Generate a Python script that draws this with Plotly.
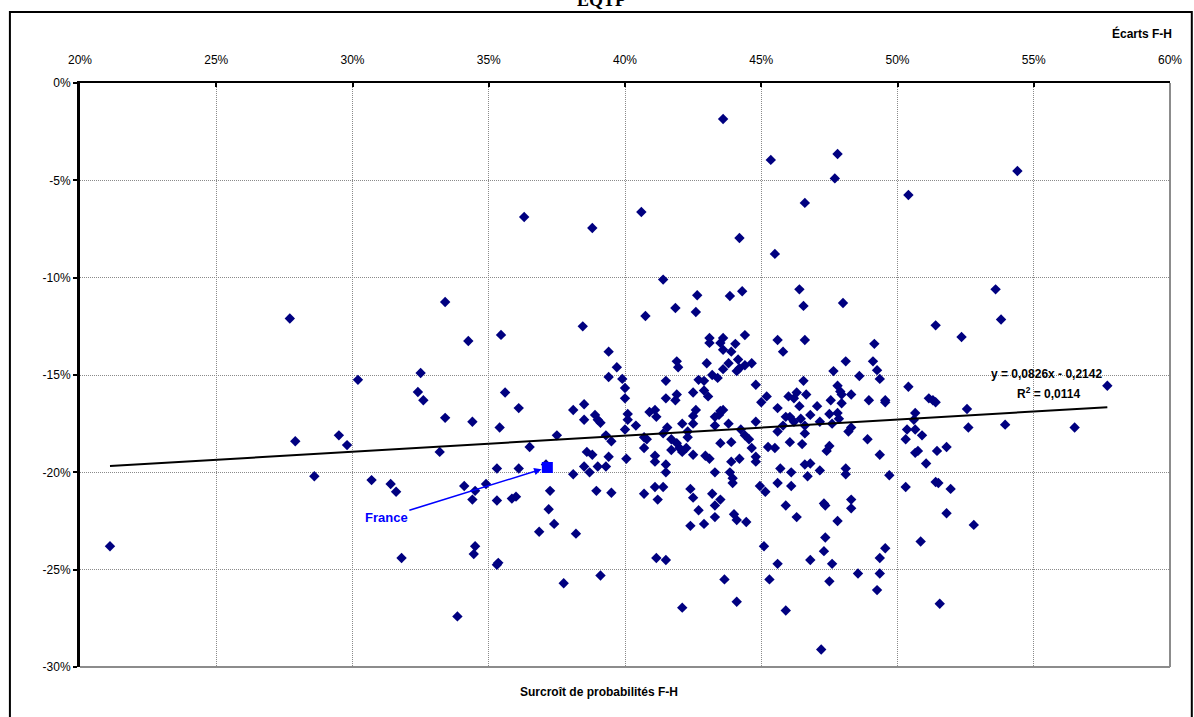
import plotly.graph_objects as go

# ---- data (percent units) ----
surcroit = [
    43.6, 45.35, 46.6, 36.3, 38.8, 40.6, 44.2, 45.5, 41.4,
    47.8, 47.7, 54.4, 50.4, 53.6, 46.4,
    27.7, 33.4, 30.2, 32.5, 32.4, 32.6, 33.4, 27.9, 29.5, 29.8, 33.2, 28.6, 30.7,
    21.1, 31.4, 31.6, 31.8,
    34.25, 35.45, 38.45, 40.75, 41.85, 42.65, 42.6, 43.85, 44.3, 46.55,
    39.4, 39.7, 39.4, 39.9, 40.0, 40.0, 35.6, 36.1, 34.4, 35.4, 38.1, 38.5, 38.5,
    38.9, 39.0, 39.1, 40.1, 40.1, 40.4, 40.0, 37.5, 36.5, 39.3, 39.5, 40.7, 40.8,
    40.7, 38.6, 38.8, 39.4, 40.05, 38.5, 38.7, 39.0, 39.3, 38.1, 35.3, 36.1, 37.1,
    40.9, 41.1, 41.15, 41.5, 41.5, 41.9, 41.85, 42.5, 41.9, 41.95, 43.0, 42.7, 42.9,
    42.9, 43.05, 43.2, 43.4, 43.1, 43.1, 43.6, 43.5, 43.6, 43.9, 44.05, 44.4, 44.15,
    43.8, 43.6, 44.1, 44.2, 44.4, 44.65, 44.8, 45.0, 45.2, 45.6, 45.8, 46.55, 46.0,
    46.2, 46.3, 45.6, 46.4, 45.9, 46.05, 46.45, 46.2, 45.8, 44.8, 43.8, 43.3, 43.3,
    43.5, 43.6, 43.45, 42.6, 42.5, 42.5, 42.1, 41.55, 41.4, 41.7, 41.9, 42.0, 41.7,
    42.1, 42.25, 42.3, 42.3, 42.5, 42.95, 43.1, 43.5, 43.9, 44.25, 44.4, 44.55,
    44.65, 44.8, 44.8, 44.2, 43.9, 43.3, 43.85, 41.5, 41.5, 41.1, 41.1, 45.25, 45.5,
    45.6, 46.05, 46.5, 45.7, 46.1, 46.6, 46.6, 46.65, 46.6,
    48.0, 49.15, 49.1, 48.1, 49.25, 47.65, 48.6, 49.35, 47.8, 47.9, 47.95, 48.3,
    47.55, 47.95, 48.95, 49.55, 49.55, 47.05, 46.8, 47.5, 47.8, 47.85, 47.15, 47.6,
    48.2, 48.3, 46.6, 48.9, 47.5, 47.4, 49.35, 46.8, 47.15, 48.1, 46.7, 48.1, 49.7,
    50.4, 50.65, 50.6, 50.35, 50.65, 50.3, 50.9, 50.65, 50.75, 51.05, 51.45, 51.8,
    51.4, 52.35, 53.8, 51.15, 51.3, 51.4, 52.55, 52.6, 53.95, 56.5, 57.7,
    34.1, 34.5, 34.9, 34.4, 35.3, 35.85, 36.0, 37.25, 38.95, 39.5, 37.2, 37.4, 36.85,
    38.2, 34.5, 34.45, 35.3, 35.35, 37.75, 39.1, 33.85, 40.7, 41.1, 41.4, 41.2, 42.4,
    42.5, 43.2, 43.5, 43.3, 42.7, 43.3, 42.9, 42.4, 44.0, 44.1, 44.45, 43.95, 43.95,
    41.15, 41.5, 43.65, 44.1, 42.1, 44.95, 45.15, 45.6, 46.1, 45.9, 46.3, 45.1, 45.6,
    45.3, 45.9,
    50.3, 51.4, 51.5, 51.95, 47.3, 47.35, 48.3, 48.3, 47.8, 51.8, 52.8, 47.35, 47.3,
    46.8, 47.6, 49.55, 49.35, 50.85, 48.55, 49.35, 47.5, 49.25, 51.55, 47.2,
]
ecarts = [
    -1.85, -3.95, -6.16, -6.88, -7.45, -6.63, -7.96, -8.78, -10.1,
    -3.65, -4.9, -4.52, -5.75, -10.6, -10.6,
    -12.1, -11.25, -15.25, -14.9, -15.87, -16.3, -17.2, -18.4, -18.1, -18.6, -18.95, -20.2, -20.4,
    -23.8, -20.6, -21.0, -24.4,
    -13.25, -12.94, -12.5, -11.97, -11.56, -10.9, -11.76, -10.94, -10.7, -11.45,
    -13.8, -14.6, -15.1, -15.2, -15.67, -16.2, -15.9, -16.7, -17.4, -17.7, -16.8, -16.5, -17.3,
    -17.05, -17.3, -17.45, -17.0, -17.3, -17.6, -17.8, -18.1, -18.7, -18.1, -18.4, -18.2, -18.3,
    -18.75, -18.95, -19.1, -19.2, -19.3, -19.7, -20.0, -19.7, -19.7, -20.1, -19.8, -19.8, -19.6,
    -16.9, -16.8, -17.15, -15.3, -16.2, -16.0, -16.3, -15.9, -14.3, -14.6, -14.4, -15.25, -15.3,
    -15.8, -16.1, -15.0, -15.15, -13.1, -13.35, -13.1, -13.35, -13.7, -13.8, -13.4, -12.95, -14.2,
    -14.4, -14.7, -14.8, -14.65, -14.5, -14.4, -15.5, -16.4, -16.1, -13.2, -13.8, -15.3, -16.1,
    -16.2, -15.9, -16.7, -16.6, -17.15, -17.15, -17.25, -17.4, -17.6, -17.4, -17.5, -17.6, -17.15,
    -16.85, -16.8, -17.05, -16.8, -17.1, -17.5, -17.5, -17.7, -18.0, -18.3, -18.5, -18.75, -18.85,
    -18.95, -18.75, -18.2, -17.9, -19.1, -19.15, -19.3, -18.5, -18.45, -17.8, -18.1, -18.3,
    -18.75, -19.2, -19.45, -19.3, -19.45, -20.0, -20.0, -20.0, -19.6, -19.15, -19.45, -18.7, -18.75,
    -17.9, -18.45, -18.55, -19.8, -20.0, -19.6, -17.6, -16.0, -13.2,
    -11.3, -13.4, -14.3, -14.3, -14.75, -14.8, -15.05, -15.2, -15.55, -15.85, -16.0, -16.0,
    -16.3, -16.45, -16.3, -16.3, -16.4, -16.6, -17.05, -17.0, -16.95, -17.25, -17.4, -17.5,
    -17.9, -17.7, -18.0, -18.3, -18.65, -18.9, -19.1, -19.55, -19.9, -19.8, -20.2, -20.1, -20.15,
    -15.6, -16.95, -17.3, -17.8, -17.8, -18.3, -18.1, -19.0, -18.9, -19.55, -18.9, -18.7,
    -12.45, -13.05, -12.15, -16.2, -16.3, -16.4, -16.75, -17.7, -17.55, -17.7, -15.55,
    -20.7, -20.95, -20.6, -21.4, -21.45, -21.35, -21.25, -20.95, -20.95, -21.05, -21.9, -22.65, -23.05,
    -23.15, -23.8, -24.2, -24.75, -24.65, -25.7, -25.3, -27.4, -21.1, -20.75, -20.75, -21.4, -20.85,
    -21.3, -21.1, -21.4, -21.7, -21.95, -22.3, -22.65, -22.75, -22.15, -22.45, -22.55, -20.3, -20.55,
    -24.4, -24.5, -25.5, -26.65, -26.95, -20.7, -21.0, -20.55, -20.7, -21.7, -22.3, -23.8, -24.7,
    -25.5, -27.1,
    -20.75, -20.5, -20.55, -20.85, -21.6, -21.7, -21.4, -21.85, -22.5, -22.1, -22.7, -23.35, -24.05,
    -24.5, -24.7, -23.9, -24.4, -23.55, -25.2, -25.2, -25.6, -26.05, -26.75, -29.1,
]

france_x = [37.15]
france_y = [-19.75]

trend_slope = 0.0826
trend_intercept = -0.2142

x_tickvals = [20, 25, 30, 35, 40, 45, 50, 55, 60]
x_ticktext = ["20%", "25%", "30%", "35%", "40%", "45%", "50%", "55%", "60%"]
y_tickvals = [0, -5, -10, -15, -20, -25, -30]
y_ticktext = ["0%", "-5%", "-10%", "-15%", "-20%", "-25%", "-30%"]

# ---- figure ----
xmin, xmax = min(surcroit), max(surcroit)
trend_x = [xmin, xmax]
trend_y = [100 * (trend_slope * (v / 100) + trend_intercept) for v in trend_x]

fig = go.Figure()
fig.add_trace(go.Scatter(
    x=surcroit, y=ecarts, mode="markers",
    marker=dict(symbol="diamond", size=8, color="#000080", line=dict(width=0)),
    hoverinfo="x+y", showlegend=False,
))
fig.add_trace(go.Scatter(
    x=trend_x, y=trend_y, mode="lines",
    line=dict(color="black", width=2), showlegend=False, hoverinfo="skip",
))
fig.add_trace(go.Scatter(
    x=france_x, y=france_y, mode="markers",
    marker=dict(symbol="square", size=11, color="#0000FF", line=dict(width=0)),
    showlegend=False,
))

font_main = "Liberation Sans, Arial, sans-serif"

fig.update_layout(
    width=1194, height=717,
    margin=dict(l=80, r=16, t=83, b=50),
    paper_bgcolor="white", plot_bgcolor="white",
    font=dict(family=font_main, size=12, color="black"),
    xaxis=dict(
        range=[20, 60], side="top", tickvals=x_tickvals, ticktext=x_ticktext,
        showgrid=True, gridcolor="#8a8a8a", gridwidth=1, griddash="1px,1px",
        showline=True, linecolor="black", linewidth=2,
        ticks="inside", ticklen=4, tickcolor="black", tickwidth=2,
        zeroline=False, tickfont=dict(size=12), ticklabelstandoff=12,
    ),
    yaxis=dict(
        range=[-30, 0], tickvals=y_tickvals, ticktext=y_ticktext,
        showgrid=True, gridcolor="#8a8a8a", gridwidth=1, griddash="1px,1px",
        showline=True, linecolor="black", linewidth=3,
        ticks="outside", ticklen=4, tickcolor="black", tickwidth=2,
        zeroline=False, tickfont=dict(size=12),
    ),
    showlegend=False,
)

# bottom and right plot borders (gray)
fig.add_shape(type="line", xref="paper", yref="paper", x0=0, x1=1, y0=0, y1=0,
              line=dict(color="#8c8c8c", width=2))
fig.add_shape(type="line", xref="paper", yref="paper", x0=1, x1=1, y0=0, y1=1,
              line=dict(color="#8c8c8c", width=2))
# outer frame
fig.add_shape(type="rect", xref="paper", yref="paper",
              x0=-0.0643, x1=1.02, y0=-0.09, y1=1.1216,
              line=dict(color="black", width=2), layer="above")

fig.add_annotation(text="<b>EQTP</b>", xref="paper", yref="paper", x=0.4787, y=1.122,
                   xanchor="center", yanchor="bottom", showarrow=False,
                   font=dict(family="Liberation Serif, Times New Roman, serif", size=18))
fig.add_annotation(text="<b>Écarts F-H</b>", xref="paper", yref="paper", x=1.004, y=1.085,
                   xanchor="right", yanchor="middle", showarrow=False,
                   font=dict(family=font_main, size=12))
fig.add_annotation(text="<b>Surcroît de probabilités F-H</b>", xref="paper", yref="paper",
                   x=0.476, y=-0.043, xanchor="center", yanchor="middle", showarrow=False,
                   font=dict(family=font_main, size=12))
fig.add_annotation(text="<b>y = 0,0826x - 0,2142</b>", x=55.45, y=-14.95,
                   xanchor="center", yanchor="middle", showarrow=False,
                   font=dict(family=font_main, size=12))
fig.add_annotation(text="<b>R<sup>2</sup> = 0,0114</b>", x=55.55, y=-15.95,
                   xanchor="center", yanchor="middle", showarrow=False,
                   font=dict(family=font_main, size=12))
fig.add_annotation(text="<b>France</b>", x=france_x[0], y=france_y[0],
                   ax=-161, ay=50, axref="pixel", ayref="pixel",
                   showarrow=True, arrowhead=2, arrowsize=1, arrowwidth=1.5,
                   arrowcolor="#0000FF", standoff=6,
                   font=dict(family=font_main, size=13, color="#0000FF"))

fig.write_html("out.html")
